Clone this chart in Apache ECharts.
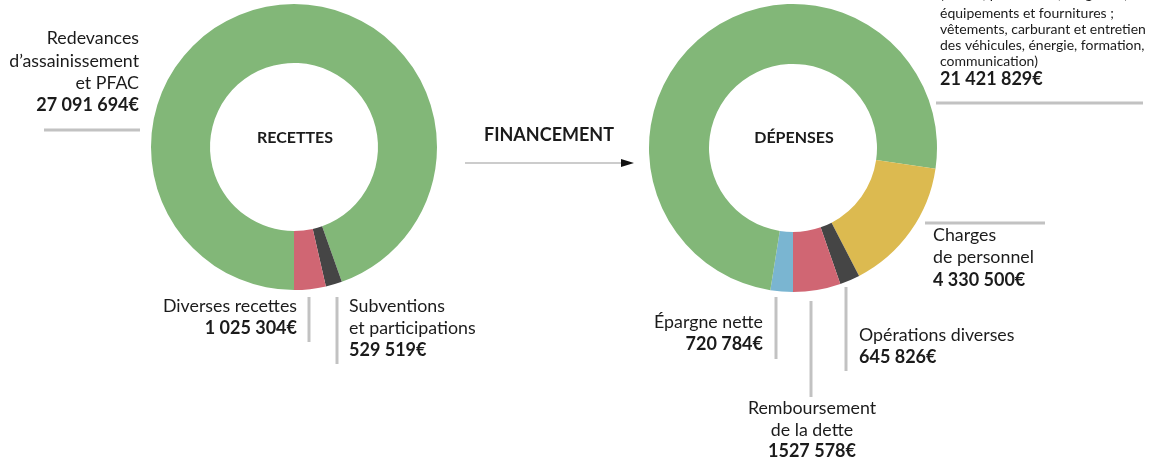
<!DOCTYPE html>
<html>
<head>
<meta charset="utf-8">
<script src="https://cdn.jsdelivr.net/npm/echarts@6/dist/echarts.min.js"></script>
<style>
  html, body { margin: 0; padding: 0; background: #fff; }
  #chart { width: 1159px; height: 462px; }
</style>
</head>
<body>
<div id="chart"></div>
<script>
// recettes
const recettesNames = ['Redevances d’assainissement et PFAC', 'Subventions et participations', 'Diverses recettes'];
const recettesValues = [27091694, 529519, 1025304];
const recettesColors = ['#82b778', '#454545', '#d06673'];

// dépenses (order clockwise from the bottom)
const depensesNames = ['Épargne nette', 'Charges générales', 'Charges de personnel', 'Opérations diverses', 'Remboursement de la dette'];
const depensesValues = [720784, 21421829, 4330500, 645826, 1527578];
const depensesColors = ['#7ab5d1', '#82b778', '#dcba50', '#454545', '#d06673'];

// value labels as printed
const recettesValueText = ['27 091 694€', '529 519€', '1 025 304€'];
const depensesValueText = ['720 784€', '21 421 829€', '4 330 500€', '645 826€', '1527 578€'];

const FONT = 'Lato, "Open Sans", sans-serif';
const TXT = '#1b1b1b';
const GRAY = '#c2c2c2';

const chart = echarts.init(document.getElementById('chart'));

function label(x, y, text, opts) {
  return {
    type: 'text', x: x, y: y, silent: true,
    style: Object.assign({
      text: text, fill: TXT, font: '17.8px ' + FONT,
      textAlign: 'left', textVerticalAlign: 'middle'
    }, opts || {})
  };
}
function bold(x, y, text, opts) {
  return label(x, y, text, Object.assign({ font: 'bold 18px ' + FONT }, opts || {}));
}
function rule(x1, y1, x2, y2) {
  return {
    type: 'line', silent: true,
    shape: { x1: x1, y1: y1, x2: x2, y2: y2 },
    style: { stroke: GRAY, lineWidth: 3 }
  };
}

const pieBase = {
  type: 'pie',
  silent: true,
  clockwise: true,
  startAngle: -90,
  label: { show: false },
  labelLine: { show: false },
  emphasis: { disabled: true },
  animation: false
};

chart.setOption({
  backgroundColor: '#fff',
  series: [
    Object.assign({}, pieBase, {
      center: [294, 147],
      radius: [84, 143],
      data: recettesNames.map((n, i) => ({ name: n, value: recettesValues[i], itemStyle: { color: recettesColors[i] } }))
    }),
    Object.assign({}, pieBase, {
      center: [793, 148],
      radius: [84, 144],
      data: depensesNames.map((n, i) => ({ name: n, value: depensesValues[i], itemStyle: { color: depensesColors[i] } }))
    })
  ],
  graphic: [
    // centre titles
    bold(295, 138, 'RECETTES', { font: 'bold 16px ' + FONT, textAlign: 'center' }),
    bold(794, 138, 'DÉPENSES', { font: 'bold 16px ' + FONT, textAlign: 'center' }),

    // financement arrow
    bold(549, 135, 'FINANCEMENT', { font: 'bold 18px ' + FONT, textAlign: 'center' }),
    { type: 'line', silent: true, shape: { x1: 465, y1: 163, x2: 624, y2: 163 }, style: { stroke: '#9a9a9a', lineWidth: 1.2 } },
    { type: 'polygon', silent: true, shape: { points: [[621, 159], [634, 163], [621, 167]] }, style: { fill: '#111' } },

    // redevances
    label(139, 38, 'Redevances', { textAlign: 'right' }),
    label(139, 61, 'd’assainissement', { textAlign: 'right' }),
    label(139, 83, 'et PFAC', { textAlign: 'right' }),
    bold(139, 105, recettesValueText[0], { textAlign: 'right' }),
    rule(44, 130, 140, 130),

    // diverses recettes
    label(297, 306, 'Diverses recettes', { textAlign: 'right' }),
    bold(297, 328, recettesValueText[2], { textAlign: 'right' }),
    rule(309, 297, 309, 342),

    // subventions
    label(349, 306, 'Subventions'),
    label(349, 328, 'et participations'),
    bold(349, 350, recettesValueText[1]),
    rule(337, 297, 337, 364),

    // charges générales (top right, cut by the frame)
    label(940, -22, 'Charges à caractère général', { font: '14px ' + FONT }),
    label(940, -6, '(achats, prestations, fongibles ;', { font: '14px ' + FONT }),
    label(940, 13, 'équipements et fournitures ;', { font: '14px ' + FONT }),
    label(940, 29, 'vêtements, carburant et entretien', { font: '14px ' + FONT }),
    label(940, 45, 'des véhicules, énergie, formation,', { font: '14px ' + FONT }),
    label(940, 61, 'communication)', { font: '14px ' + FONT }),
    bold(940, 79, depensesValueText[1]),
    rule(936, 103, 1143, 103),

    // charges de personnel
    rule(925, 223, 1045, 223),
    label(933, 235, 'Charges'),
    label(933, 257, 'de personnel'),
    bold(933, 280, depensesValueText[2]),

    // épargne nette
    label(763, 322, 'Épargne nette', { textAlign: 'right' }),
    bold(763, 344, depensesValueText[0], { textAlign: 'right' }),
    rule(776, 297, 776, 359),

    // remboursement
    rule(811, 301, 811, 397),
    label(812, 408, 'Remboursement', { textAlign: 'center' }),
    label(812, 430, 'de la dette', { textAlign: 'center' }),
    bold(812, 451, depensesValueText[4], { textAlign: 'center' }),

    // opérations diverses
    rule(846, 287, 846, 371),
    label(859, 335, 'Opérations diverses'),
    bold(859, 357, depensesValueText[3])
  ]
});
</script>
</body>
</html>
